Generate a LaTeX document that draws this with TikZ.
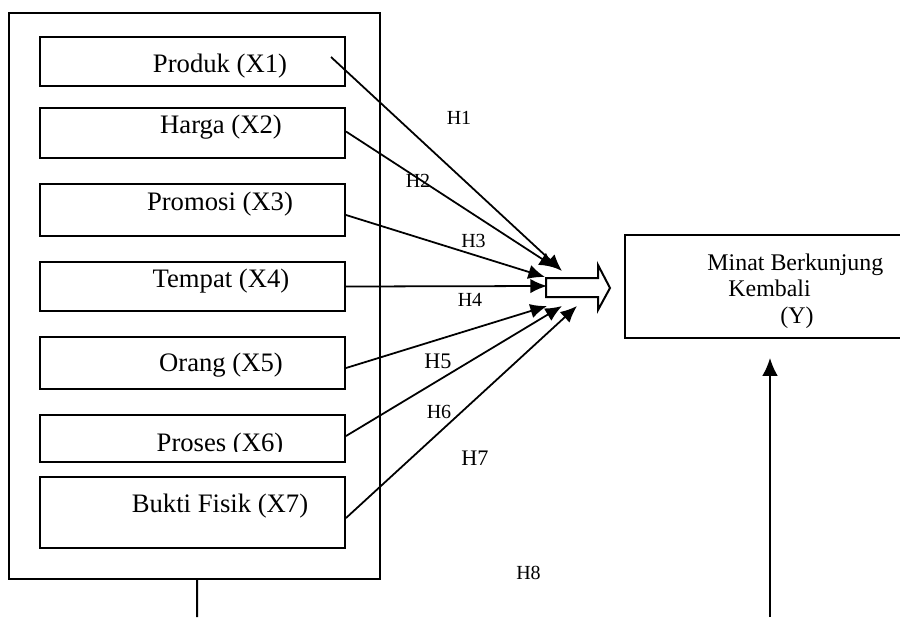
\documentclass[tikz,border=0pt]{standalone}
\usepackage{fontspec}
\setmainfont{Liberation Serif}
\usetikzlibrary{arrows.meta}

\tikzset{
  varbox/.style={draw, line width=0.9pt, minimum width=137.25pt, inner sep=0pt},
  conn/.style={-{Latex[length=7.5pt,width=6.5pt]}, line width=0.8pt},
  vlab/.style={font=\fontsize{12}{12}\selectfont, anchor=base, inner sep=0pt},
  ylab/.style={font=\fontsize{10.75}{11}\selectfont, anchor=base west, inner sep=0pt},
  hlab/.style={font=\fontsize{9}{10}\selectfont, inner sep=0pt}
}

\begin{document}
\begin{tikzpicture}[x=0.45pt, y=-0.45pt]
\useasboundingbox (0,0) rectangle (900,624);

% independent variables
\node[draw, line width=0.9pt, minimum width=166.95pt, minimum height=254.7pt, inner sep=0pt] (indep) at (194.5,296) {};
\node[varbox, minimum height=22.05pt] (x1) at (192.5,61.5) {};
\node[varbox, minimum height=22.5pt] (x2) at (192.5,132.5) {};
\node[varbox, minimum height=23.4pt] (x3) at (192.5,209.5) {};
\node[varbox, minimum height=22.05pt] (x4) at (192.5,286.5) {};
\node[varbox, minimum height=23.4pt] (x5) at (192.5,363) {};
\node[varbox, minimum height=21.15pt] (x6) at (192.5,438.5) {};
\node[varbox, minimum height=31.95pt] (x7) at (192.5,512.5) {};

\node[vlab] (t1) at (220,72.5) {Produk (X1)};
\node[vlab] (t2) at (221,133.5) {Harga (X2)};
\node[vlab] (t3) at (220,210) {Promosi (X3)};
\node[vlab] (t4) at (221,287) {Tempat (X4)};
\node[vlab] (t5) at (221,371.5) {Orang (X5)};
\begin{scope}
\clip (40,415) rectangle (345,451);
\node[vlab] (t6) at (220,451) {Proses (X6)};
\end{scope}
\node[vlab] (t7) at (220,512) {Bukti Fisik (X7)};

% dependent variable
\node[draw, line width=0.9pt, minimum width=126pt, minimum height=46.35pt, inner sep=0pt] (ybox) at (765,286.5) {};
\node[ylab] (y1) at (707,270) {Minat Berkunjung};
\node[ylab] (y2) at (728,296) {Kembali};
\node[ylab] (y3) at (780,323) {(Y)};

% block arrow
\draw[line width=0.9pt, fill=white] (546,278) -- (598,278) -- (598,265) -- (610,288) -- (598,310) -- (598,297) -- (546,297) -- cycle;

\coordinate (h1) at (562,271);
\coordinate (h2) at (556,268);
\coordinate (h3) at (545,277);
\coordinate (h4) at (547,286);
\coordinate (h5) at (547,306);
\coordinate (h6) at (562,306);
\coordinate (h7) at (577,306);

\draw[conn] ([shift={(-15,-4.5)}]x1.east) -- (h1);
\draw[conn] ([shift={(0,-1)}]x2.east) -- (h2);
\draw[conn] ([shift={(0,5.5)}]x3.east) -- (h3);
\draw[conn] (x4.east) -- (h4);
\draw[conn] ([shift={(0,5)}]x5.east) -- (h5);
\draw[conn] ([shift={(0,-2.5)}]x6.east) -- (h6);
\draw[conn] ([shift={(0,5.5)}]x7.east) -- (h7);

% H8
\coordinate (gap1) at (197,617);
\coordinate (gap2) at (770,617);
\coordinate (ytip) at (770,358);
\draw[line width=0.9pt] ([shift={(2.5,0)}]indep.south) -- (gap1);
\draw[conn, -{Latex[length=8pt,width=7pt]}] (gap2) -- (ytip);

% labels
\node[hlab] (lh1) at (459,118) {H1};
\node[hlab] (lh2) at (418,181) {H2};
\node[hlab] (lh3) at (473.5,241) {H3};
\node[hlab] (lh4) at (470,300) {H4};
\node[hlab, font=\fontsize{10}{11}\selectfont] (lh5) at (438,361) {H5};
\node[hlab] (lh6) at (439,412) {H6};
\node[hlab, font=\fontsize{10}{11}\selectfont] (lh7) at (475,458) {H7};
\node[hlab] (lh8) at (528.5,573) {H8};
\end{tikzpicture}
\end{document}
